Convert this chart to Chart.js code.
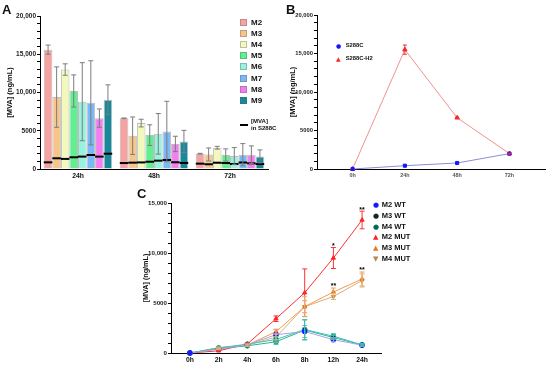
<!DOCTYPE html>
<html>
<head>
<meta charset="utf-8">
<script src="https://cdn.jsdelivr.net/npm/chart.js@4.4.1/dist/chart.umd.min.js"></script>
<style>
  body { margin: 0; background: #fff; }
  #page { position: relative; width: 550px; height: 367px; overflow: hidden; font-family: 'Liberation Sans', Arial, sans-serif; color: #111; }
  canvas { position: absolute; }
  .tag { position: absolute; font-weight: bold; font-size: 13px; line-height: 1; }
  .legend { position: absolute; font-weight: bold; }
  .row { position: absolute; left: 0; white-space: nowrap; }
  .mark { position: absolute; font-family: 'DejaVu Sans', sans-serif; }
</style>
</head>
<body>
<div id="page">
  <canvas id="chartA" width="285" height="190" style="left:0;top:0"></canvas>
  <canvas id="chartB" width="264" height="190" style="left:286px;top:0"></canvas>
  <canvas id="chartC" width="250" height="182" style="left:138px;top:185px"></canvas>
  <div class="tag" style="left:2px;top:3px">A</div>
  <div class="tag" style="left:286px;top:3px">B</div>
  <div class="tag" style="left:137px;top:187px">C</div>
  <div class="legend" id="legendA" style="left:240px;top:19px"></div>
  <div class="legend" id="legendB" style="left:336px;top:41px"></div>
  <div class="legend" id="legendC" style="left:372px;top:200px"></div>
</div>
<script>
// ---- panel A: MVA titer per strain ----
const timesA = ['24h', '48h', '72h'];
const strainsA = ['M2', 'M3', 'M4', 'M5', 'M6', 'M7', 'M8', 'M9'];
const colorsA = ['#f7a1a1', '#f8c48a', '#f3f8bd', '#5ff190', '#96f3dd', '#7ab8f7', '#f27ff0', '#17899a'];
// one row per strain: values at 24h, 48h, 72h
const meanA = [
    [15600, 6620, 2000],
    [9400, 4350, 1900],
    [13000, 6000, 2780],
    [10200, 4430, 1830],
    [8800, 4600, 1700],
    [8650, 4900, 1870],
    [6650, 3280, 1870],
    [9050, 3600, 1650],
];
const sdA = [
    [600, 50, 50],
    [3950, 2450, 850],
    [750, 500, 180],
    [2100, 1350, 800],
    [5100, 2650, 1100],
    [5500, 3950, 1450],
    [1200, 1000, 1150],
    [1950, 1450, 850],
];
// [MVA] in S288C background, drawn as black line in each bar
const s288cA = [
    [870, 780, 700],
    [1400, 830, 620],
    [1320, 860, 820],
    [1530, 950, 780],
    [1620, 1090, 650],
    [1830, 1180, 850],
    [1620, 880, 740],
    [2000, 790, 650],
];

// ---- panel B ----
const timesB = ['0h', '24h', '48h', '72h'];
const s288cB = [0, 430, 780, 2000];
const s288cH2B = [0, 15500, 6650, 2000];
const sdH2B = [0, 600, 80, 60];

// ---- panel C ----
const timesC = ['0h', '2h', '4h', '6h', '8h', '12h', '24h'];
const m2wt = [0, 380, 820, 1830, 2150, 1330, 780];
const m3wt = [0, 520, 880, 1350, 2350, 1680, 820];
const m4wt = [0, 450, 720, 1120, 2300, 1550, 800];
const m2mut = [0, 220, 900, 3430, 6030, 9500, 13300];
const m3mut = [0, 520, 800, 2130, 4630, 6100, 7400];
const m4mut = [0, 420, 780, 1600, 4630, 5650, 7250];
const sdM2wt = [0, 80, 120, 500, 600, 200, 120];
const sdM3wt = [0, 100, 120, 300, 1000, 250, 100];
const sdM4wt = [0, 100, 100, 250, 1000, 200, 100];
const sdM2mut = [0, 50, 100, 280, 2380, 1050, 880];
const sdM3mut = [0, 80, 100, 250, 600, 400, 700];
const sdM4mut = [0, 80, 100, 300, 1000, 300, 650];
const starsM2mut = ['', '', '', '', '', '*', '**'];
const starsM3mut = ['', '', '', '', '', '**', '**'];

const FONT = "'Liberation Sans', Arial, sans-serif";

// draws error bars from dataset.sd
const errorBars = {
    id: 'errorBars',
    afterDatasetsDraw(chart) {
        const { ctx, chartArea } = chart;
        const yScale = chart.scales.y;
        chart.data.datasets.forEach((ds, i) => {
            if (!ds.sd) return;
            chart.getDatasetMeta(i).data.forEach((el, j) => {
                const sd = ds.sd[j];
                if (!sd) return;
                const raw = ds.data[j];
                const v = typeof raw === 'object' ? raw.y : raw;
                const top = yScale.getPixelForValue(v + sd);
                const bot = Math.min(yScale.getPixelForValue(v - sd), chartArea.bottom);
                const cap = ds.capWidth || 2.5;
                ctx.save();
                ctx.strokeStyle = ds.sdColor;
                ctx.lineWidth = 1;
                ctx.beginPath();
                ctx.moveTo(el.x, top);
                ctx.lineTo(el.x, bot);
                ctx.moveTo(el.x - cap, top);
                ctx.lineTo(el.x + cap, top);
                if (bot < chartArea.bottom) {
                    ctx.moveTo(el.x - cap, bot);
                    ctx.lineTo(el.x + cap, bot);
                }
                ctx.stroke();
                ctx.restore();
            });
        });
    }
};

// black S288C level line across each bar
const baselineLines = {
    id: 'baselineLines',
    afterDatasetsDraw(chart) {
        const ctx = chart.ctx;
        const yScale = chart.scales.y;
        chart.data.datasets.forEach((ds, i) => {
            if (!ds.baseline) return;
            chart.getDatasetMeta(i).data.forEach((el, j) => {
                const y = yScale.getPixelForValue(ds.baseline[j]);
                ctx.fillStyle = '#000';
                ctx.fillRect(el.x - el.width / 2, y - 1, el.width, 2);
            });
        });
    }
};

// significance stars above error bars
const sigStars = {
    id: 'sigStars',
    afterDatasetsDraw(chart) {
        const ctx = chart.ctx;
        const yScale = chart.scales.y;
        chart.data.datasets.forEach((ds, i) => {
            if (!ds.stars) return;
            chart.getDatasetMeta(i).data.forEach((el, j) => {
                if (!ds.stars[j]) return;
                const v = ds.data[j].y + (ds.sd ? ds.sd[j] : 0);
                ctx.save();
                ctx.fillStyle = '#000';
                ctx.font = 'bold 7px ' + FONT;
                ctx.textAlign = 'center';
                ctx.textBaseline = 'bottom';
                ctx.fillText(ds.stars[j], el.x, yScale.getPixelForValue(v) + 2);
                ctx.restore();
            });
        });
    }
};

function majorLabel(v) {
    if (v % 5000) return '';
    return v >= 10000 ? v.toLocaleString('en-US') : String(v);
}

function yAxis(max, width, tickSize, titleSize, titlePad) {
    return {
        min: 0,
        max: max,
        afterFit: s => { s.width = width; },
        border: { display: true, color: '#000', width: 1 },
        grid: { drawOnChartArea: false, drawTicks: true, tickLength: 3, tickColor: '#000' },
        ticks: {
            stepSize: 1000,
            autoSkip: false,
            padding: 1,
            color: '#222',
            font: { family: FONT, size: tickSize, weight: 'bold' },
            callback: majorLabel
        },
        title: {
            display: true,
            text: '[MVA] (ng/mL)',
            color: '#111',
            padding: { top: titlePad, bottom: 0 },
            font: { family: FONT, size: titleSize, weight: 'bold' }
        }
    };
}

function timeAxis(labels, pad, height, size, color) {
    return {
        type: 'linear',
        min: -pad,
        max: labels.length - 1 + pad,
        afterFit: s => { s.height = height; },
        afterBuildTicks: s => { s.ticks = labels.map((t, i) => ({ value: i })); },
        border: { display: true, color: '#000', width: 1 },
        grid: { drawOnChartArea: false, drawTicks: false },
        ticks: {
            autoSkip: false,
            padding: 3,
            color: color,
            font: { family: FONT, size: size, weight: 'bold' },
            callback: v => labels[v]
        }
    };
}

const common = {
    responsive: false,
    animation: false,
    events: [],
    plugins: { legend: { display: false }, tooltip: { enabled: false } }
};

// Panel A
new Chart(document.getElementById('chartA'), {
    type: 'bar',
    data: {
        labels: timesA,
        datasets: strainsA.map((name, i) => ({
            label: name,
            data: meanA[i],
            sd: sdA[i],
            sdColor: '#7d7d7d',
            capWidth: 2.5,
            baseline: s288cA[i],
            backgroundColor: colorsA[i],
            borderColor: 'rgba(110,110,110,0.45)',
            borderWidth: 1,
            categoryPercentage: 0.9,
            barPercentage: 1
        }))
    },
    options: {
        ...common,
        layout: { padding: { top: 16, right: 17, left: 0, bottom: 0 } },
        scales: {
            x: {
                afterFit: s => { s.height = 21; },
                border: { display: true, color: '#000', width: 1 },
                grid: { drawOnChartArea: false, drawTicks: false },
                ticks: { padding: 3, color: '#111', font: { family: FONT, size: 6.8, weight: 'bold' } }
            },
            y: yAxis(20000, 40, 6.5, 7.5, 5)
        }
    },
    plugins: [baselineLines, errorBars]
});

// Panel B
new Chart(document.getElementById('chartB'), {
    type: 'line',
    data: {
        datasets: [
            {
                label: 'S288C',
                data: s288cB.map((v, i) => ({ x: i, y: v })),
                borderColor: '#8c8cd6',
                borderWidth: 1,
                pointStyle: 'rect',
                pointRadius: 2.2,
                pointBackgroundColor: '#1515ff',
                pointBorderColor: '#1515ff',
                clip: false
            },
            {
                label: 'S288C-H2',
                data: s288cH2B.map((v, i) => ({ x: i, y: v })),
                sd: sdH2B,
                sdColor: '#f03030',
                capWidth: 2,
                borderColor: '#f29090',
                borderWidth: 1,
                pointStyle: 'triangle',
                pointRadius: 2.5,
                pointBackgroundColor: '#ff2020',
                pointBorderColor: '#ff2020',
                clip: false
            }
        ]
    },
    options: {
        ...common,
        layout: { padding: { top: 15, right: 3, left: 0, bottom: 0 } },
        scales: {
            x: timeAxis(timesB, 0.68, 21, 5.4, '#555'),
            y: yAxis(20000, 31, 5.8, 7.5, 2)
        }
    },
    plugins: [errorBars]
});

// Panel C
const seriesC = [
    { label: 'M2 WT', data: m2wt, sd: sdM2wt, line: '#a3a3ea', fill: '#1a1aff', edge: '#1a1aff', sdColor: '#a3a3ea', style: 'circle', rot: 0 },
    { label: 'M3 WT', data: m3wt, sd: sdM3wt, line: '#3fc3b8', fill: '#102626', edge: '#2ab5a5', sdColor: '#4cc8b8', style: 'circle', rot: 0 },
    { label: 'M4 WT', data: m4wt, sd: sdM4wt, line: '#2db58e', fill: '#006b55', edge: '#1d9c78', sdColor: '#3cc09a', style: 'circle', rot: 0 },
    { label: 'M2 MUT', data: m2mut, sd: sdM2mut, line: '#ff3030', fill: '#ff1e1e', edge: '#ff1e1e', sdColor: '#ff3030', style: 'triangle', rot: 0, stars: starsM2mut },
    { label: 'M3 MUT', data: m3mut, sd: sdM3mut, line: '#f59a4a', fill: '#e8781e', edge: '#e8781e', sdColor: '#f59a4a', style: 'triangle', rot: 0, stars: starsM3mut },
    { label: 'M4 MUT', data: m4mut, sd: sdM4mut, line: '#d8b078', fill: '#b8864b', edge: '#b8864b', sdColor: '#dcb47c', style: 'triangle', rot: 180 }
];

new Chart(document.getElementById('chartC'), {
    type: 'line',
    data: {
        datasets: seriesC.map(s => ({
            label: s.label,
            data: s.data.map((v, i) => ({ x: i, y: v })),
            sd: s.sd,
            sdColor: s.sdColor,
            capWidth: 2.5,
            stars: s.stars,
            borderColor: s.line,
            borderWidth: 1,
            pointStyle: s.style,
            rotation: s.rot,
            pointRadius: 2.4,
            pointBackgroundColor: s.fill,
            pointBorderColor: s.edge,
            pointBorderWidth: 1,
            clip: false
        }))
    },
    options: {
        ...common,
        layout: { padding: { top: 18, right: 7, left: 0, bottom: 0 } },
        scales: {
            x: timeAxis(timesC, 0.66, 14, 6.8, '#111'),
            y: yAxis(15000, 33, 6.2, 7.2, 4)
        }
    },
    plugins: [errorBars, sigStars]
});

// ---- legends (html) ----
const legA = document.getElementById('legendA');
strainsA.forEach((name, i) => {
    const row = document.createElement('div');
    row.className = 'row';
    row.style.top = (i * 11.1) + 'px';
    row.innerHTML = `<span style="position:absolute;left:0;top:0;width:7px;height:7px;box-sizing:border-box;border:1px solid rgba(90,90,90,0.35);background:${colorsA[i]}"></span>` +
        `<span style="position:absolute;left:11px;top:-1px;font-size:8px;line-height:9px">${name}</span>`;
    legA.appendChild(row);
});
const extra = document.createElement('div');
extra.className = 'row';
extra.style.top = '99px';
extra.innerHTML = `<span style="position:absolute;left:0;top:6px;width:8px;height:2px;background:#000"></span>` +
    `<span style="position:absolute;left:11px;top:0;font-size:6px;line-height:6.6px">[MVA]<br>in S288C</span>`;
legA.appendChild(extra);

const legB = document.getElementById('legendB');
[['S288C', '#1515ff', '\u25CF'], ['S288C-H2', '#ff2020', '\u25B2']].forEach(([name, color, glyph], i) => {
    const row = document.createElement('div');
    row.className = 'row';
    row.style.top = (i * 13) + 'px';
    row.innerHTML = `<span class="mark" style="left:0;top:0;font-size:6px;line-height:9px;color:${color}">${glyph}</span>` +
        `<span style="position:absolute;left:9.7px;top:0;font-size:5.8px;line-height:9px">${name}</span>`;
    legB.appendChild(row);
});

const legC = document.getElementById('legendC');
seriesC.forEach((s, i) => {
    const glyph = s.style === 'circle' ? '\u25CF' : (s.rot ? '\u25BC' : '\u25B2');
    const row = document.createElement('div');
    row.className = 'row';
    row.style.top = (i * 10.75) + 'px';
    row.innerHTML = `<span class="mark" style="left:1px;top:0;font-size:7px;line-height:10px;color:${s.fill}">${glyph}</span>` +
        `<span style="position:absolute;left:9.7px;top:0;font-size:7.5px;line-height:10px">${s.label}</span>`;
    legC.appendChild(row);
});
</script>
</body>
</html>
